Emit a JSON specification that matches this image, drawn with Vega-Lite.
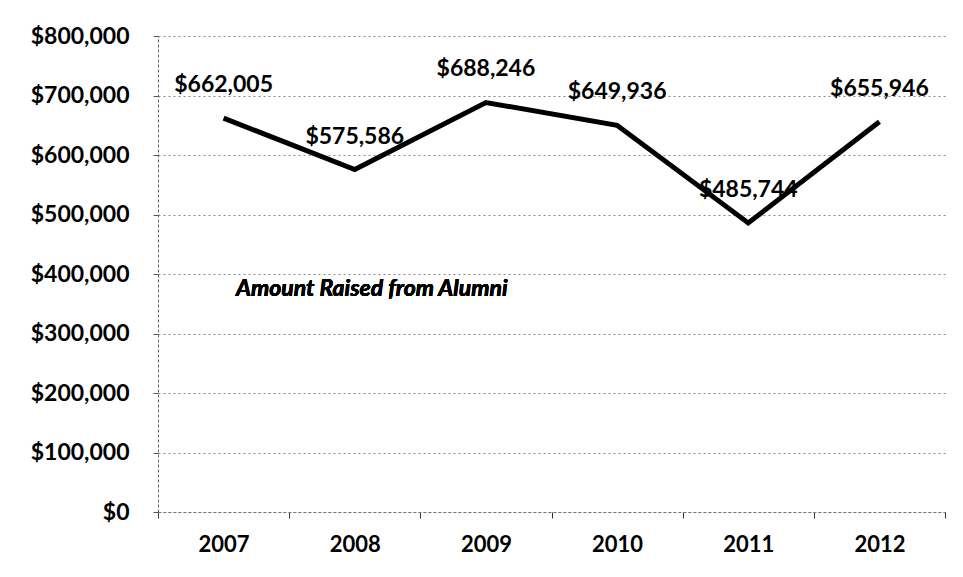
{
  "$schema": "https://vega.github.io/schema/vega-lite/v6.json",
  "width": 787,
  "height": 476,
  "autosize": {"type": "none"},
  "padding": {"left": 158, "top": 36, "right": 18, "bottom": 65},
  "background": "white",
  "config": {
    "view": {"stroke": null},
    "font": "Lato",
    "axis": {"labelFont": "Lato", "labelFontWeight": "bold", "labelColor": "black"}
  },
  "data": {
    "values": [
      {"year": "2007", "amount": 662005},
      {"year": "2008", "amount": 575586},
      {"year": "2009", "amount": 688246},
      {"year": "2010", "amount": 649936},
      {"year": "2011", "amount": 485744},
      {"year": "2012", "amount": 655946}
    ]
  },
  "encoding": {
    "x": {
      "field": "year",
      "type": "ordinal",
      "scale": {"paddingInner": 0, "paddingOuter": 0},
      "axis": {
        "title": null,
        "labelAngle": 0,
        "labelFontSize": 22,
        "labelPadding": 16,
        "tickBand": "extent",
        "tickSize": 6,
        "tickColor": "#333",
        "domainColor": "#777",
        "domainDash": [3, 2],
        "grid": false
      }
    },
    "y": {
      "field": "amount",
      "type": "quantitative",
      "scale": {"domain": [0, 800000], "nice": false},
      "axis": {
        "title": null,
        "format": "$,.0f",
        "values": [0, 100000, 200000, 300000, 400000, 500000, 600000, 700000, 800000],
        "labelFontSize": 23,
        "labelPadding": 24,
        "tickSize": 5,
        "tickColor": "#555",
        "domainColor": "#666",
        "domainDash": [3, 2],
        "grid": true,
        "gridColor": "#888",
        "gridDash": [2, 3],
        "gridWidth": 1
      }
    }
  },
  "layer": [
    {
      "mark": {"type": "line", "color": "black", "strokeWidth": 5}
    },
    {
      "mark": {"type": "text", "baseline": "middle", "align": "center", "dy": -33, "fontSize": 23, "fontWeight": "bold", "color": "black"},
      "encoding": {
        "text": {"field": "amount", "type": "quantitative", "format": "$,.0f"}
      }
    },
    {
      "mark": {"type": "text", "baseline": "middle", "align": "center", "dx": 17, "fontSize": 23, "fontWeight": "bold", "fontStyle": "italic", "color": "black"},
      "encoding": {
        "x": {"datum": "2008"},
        "y": {"datum": 375000},
        "text": {"value": "Amount Raised from Alumni"}
      }
    }
  ]
}
